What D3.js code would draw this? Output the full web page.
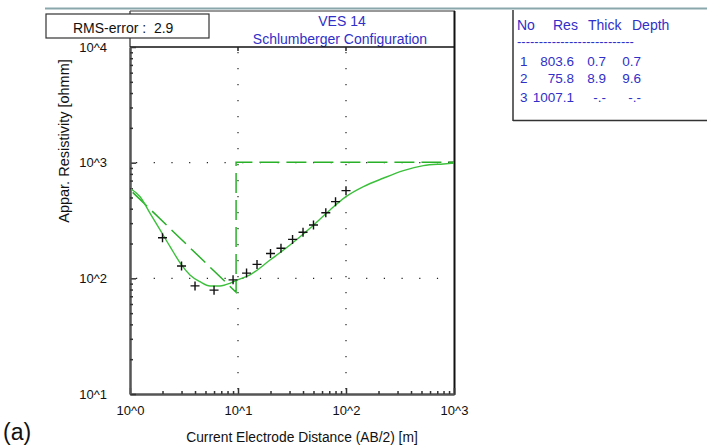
<!DOCTYPE html>
<html>
<head>
<meta charset="utf-8">
<script src="https://cdn.jsdelivr.net/npm/d3@7"></script>
<style>
  html, body { margin: 0; padding: 0; background: #ffffff; }
  svg { display: block; font-family: "Liberation Sans", Arial, sans-serif; }
</style>
</head>
<body>
<svg id="chart" width="707" height="446"></svg>
<script>
// Field sounding: half electrode spacing AB/2 [m] and apparent resistivity [ohm m]
const abHalf  = [2, 3, 4, 6, 9, 12, 15, 20, 25, 32, 40, 50, 65, 80, 100];
const rhoApp  = [224, 128, 86, 79, 97, 111, 132, 164, 182, 217, 250, 289, 369, 460, 573];

// Calculated response of the layered model
const curveAB  = [1, 1.24, 1.53, 1.9, 2.35, 3.01, 3.59, 4.45, 5.51, 6.81, 8.43, 9.38, 12.9, 19.8, 30.3, 46.4, 71.1, 100, 145, 221, 340, 520, 796, 1000];
const curveRho = [600, 508, 367, 262, 188, 130, 107, 93.5, 85.9, 85.9, 90.6, 94.8, 107, 144, 194, 271, 390, 508, 620, 733, 853, 942, 975, 990];

// Layered earth model
const layerNo    = [1, 2, 3];
const layerRes   = [803.6, 75.8, 1007.1];
const layerThick = [0.7, 8.9];
const layerDepth = [0.7, 9.6];

const xTicks = [1, 10, 100, 1000];
const yTicks = [10, 100, 1000, 10000];
const rmsError = 2.9;

const svg = d3.select("#chart");
const blue = "#3030c8";

const x = d3.scaleLog().domain([1, 1000]).range([130, 454]);
const y = d3.scaleLog().domain([10, 10000]).range([394, 47]);

const expLabel = d => "10^" + Math.round(Math.log10(d));

// window edge line
svg.append("line").attr("x1", 45).attr("x2", 707).attr("y1", 8.5).attr("y2", 8.5)
  .attr("stroke", "#8aa8ac").attr("stroke-width", 2);

// chart frame
svg.append("line").attr("x1", 130).attr("x2", 455).attr("y1", 11).attr("y2", 11)
  .attr("stroke", "#333").attr("stroke-width", 1);
svg.append("line").attr("x1", 130).attr("x2", 130).attr("y1", 11).attr("y2", 47)
  .attr("stroke", "#555").attr("stroke-width", 1.5);
svg.append("line").attr("x1", 454.5).attr("x2", 454.5).attr("y1", 11).attr("y2", 395)
  .attr("stroke", "#111").attr("stroke-width", 2);

// titles
svg.append("text").attr("x", 342).attr("y", 26).attr("text-anchor", "middle")
  .attr("font-size", 14).attr("fill", blue).text("VES 14");
svg.append("text").attr("x", 340).attr("y", 44).attr("text-anchor", "middle")
  .attr("font-size", 14).attr("fill", blue).text("Schlumberger Configuration");

// dotted decade grid
const grid = svg.append("g").attr("fill", "none").attr("stroke", "#222").attr("stroke-width", 1.2);
[10, 100].forEach(v => {
  grid.append("line").attr("x1", x(v)).attr("x2", x(v)).attr("y1", 52).attr("y2", 394)
    .attr("stroke-dasharray", "1.2,14.8");
});
[100, 1000].forEach(v => {
  grid.append("line").attr("x1", 136).attr("x2", 454).attr("y1", y(v)).attr("y2", y(v))
    .attr("stroke-dasharray", "1.2,16.5");
});

// plot top border with small decade ticks
svg.append("line").attr("x1", 130).attr("x2", 454).attr("y1", 47).attr("y2", 47)
  .attr("stroke", "#111").attr("stroke-width", 1.5);
[10, 100].forEach(v => {
  svg.append("line").attr("x1", x(v)).attr("x2", x(v)).attr("y1", 47).attr("y2", 51)
    .attr("stroke", "#222").attr("stroke-width", 1.5);
});
svg.append("line").attr("x1", 448).attr("x2", 454).attr("y1", y(1000)).attr("y2", y(1000))
  .attr("stroke", "#111").attr("stroke-width", 2);

// minor tick values for log axes
const minorX = [];
const minorY = [];
[1, 10, 100].forEach(b => { for (let k = 2; k <= 9; k++) minorX.push(b * k); });
[10, 100, 1000].forEach(b => { for (let k = 2; k <= 9; k++) minorY.push(b * k); });

// x axis
const xAxis = svg.append("g").attr("transform", "translate(0,394)")
  .call(d3.axisBottom(x).tickValues(xTicks).tickFormat(expLabel).tickSizeInner(-6).tickSizeOuter(0).tickPadding(12));
const xMinor = svg.append("g").attr("transform", "translate(0,394)")
  .call(d3.axisBottom(x).tickValues(minorX).tickFormat("").tickSizeInner(-3).tickSizeOuter(0));

// y axis
const yAxis = svg.append("g").attr("transform", "translate(130,0)")
  .call(d3.axisLeft(y).tickValues(yTicks).tickFormat(expLabel).tickSizeInner(-6).tickSizeOuter(0).tickPadding(23));
const yMinor = svg.append("g").attr("transform", "translate(130,0)")
  .call(d3.axisLeft(y).tickValues(minorY).tickFormat("").tickSizeInner(-3).tickSizeOuter(0));

[xAxis, yAxis, xMinor, yMinor].forEach(g => {
  g.select(".domain").attr("stroke", "#555").attr("stroke-width", 2);
  g.selectAll(".tick line").attr("stroke", "#333").attr("stroke-width", 1.5);
  g.selectAll(".tick text").attr("font-size", 13).attr("fill", "#111")
    .attr("font-family", "'Liberation Sans', Arial, sans-serif");
});

// axis titles
svg.append("text").attr("x", 302).attr("y", 442).attr("text-anchor", "middle")
  .attr("font-size", 13.8).attr("fill", "#111").text("Current Electrode Distance (AB/2) [m]");
svg.append("text").attr("transform", "translate(69,141) rotate(-90)").attr("text-anchor", "middle")
  .attr("font-size", 14.5).attr("fill", "#111").text("Appar. Resistivity [ohmm]");

// clip to plot area
svg.append("clipPath").attr("id", "plotClip").append("rect")
  .attr("x", 131).attr("y", 47).attr("width", 323).attr("height", 347);

const plot = svg.append("g").attr("clip-path", "url(#plotClip)");

// model section drawn from layer depths and resistivities
const modelPts = [
  [layerDepth[0], layerRes[0]],
  [layerDepth[1], layerRes[1]],
  [layerDepth[1], layerRes[2]],
  [1000, layerRes[2]]
];
plot.append("path")
  .attr("d", d3.line().x(d => x(d[0])).y(d => y(d[1]))(modelPts))
  .attr("fill", "none").attr("stroke", "#28b028").attr("stroke-width", 1.5)
  .attr("stroke-dasharray", "20,7");

// calculated curve
const curvePts = curveAB.map((a, i) => [a, curveRho[i]]);
plot.append("path")
  .attr("d", d3.line().x(d => x(d[0])).y(d => y(d[1])).curve(d3.curveMonotoneX)(curvePts))
  .attr("fill", "none").attr("stroke", "#3cc03c").attr("stroke-width", 1.4);

// field data crosses
plot.selectAll(".obs").data(abHalf.map((a, i) => [a, rhoApp[i]])).enter()
  .append("path").attr("class", "obs")
  .attr("transform", d => `translate(${x(d[0])},${y(d[1])})`)
  .attr("d", "M-4.5,0H4.5M0,-4.5V4.5")
  .attr("stroke", "#111").attr("stroke-width", 1.4);

// RMS error box
svg.append("rect").attr("x", 46).attr("y", 14).attr("width", 163).attr("height", 24)
  .attr("fill", "#ffffff").attr("stroke", "#333").attr("stroke-width", 1.2);
svg.append("text").attr("x", 73).attr("y", 33).attr("font-size", 14).attr("fill", "#111")
  .attr("xml:space", "preserve").text("RMS-error :  " + rmsError);

// model table
const tbl = svg.append("g");
tbl.append("line").attr("x1", 513).attr("x2", 513).attr("y1", 10).attr("y2", 121)
  .attr("stroke", "#333").attr("stroke-width", 1.5);
tbl.append("line").attr("x1", 513).attr("x2", 707).attr("y1", 120.5).attr("y2", 120.5)
  .attr("stroke", "#333").attr("stroke-width", 1.5);

const hdr = [["No", 517], ["Res", 553], ["Thick", 588], ["Depth", 632]];
hdr.forEach(h => tbl.append("text").attr("x", h[1]).attr("y", 30)
  .attr("font-size", 14).attr("fill", blue).text(h[0]));
tbl.append("text").attr("x", 517).attr("y", 46).attr("font-size", 13).attr("fill", blue)
  .text("---------------------------");

const rowY = [66, 83, 102];
layerNo.forEach((n, i) => {
  const row = tbl.append("g").attr("font-size", 13.5).attr("fill", blue);
  row.append("text").attr("x", 520).attr("y", rowY[i]).text(n);
  row.append("text").attr("x", 574).attr("y", rowY[i]).attr("text-anchor", "end").text(layerRes[i].toFixed(1));
  row.append("text").attr("x", 606).attr("y", rowY[i]).attr("text-anchor", "end")
    .text(i < layerThick.length ? layerThick[i].toFixed(1) : "-.-");
  row.append("text").attr("x", 641).attr("y", rowY[i]).attr("text-anchor", "end")
    .text(i < layerDepth.length ? layerDepth[i].toFixed(1) : "-.-");
});

// panel label
svg.append("text").attr("x", 3).attr("y", 440).attr("font-size", 23).attr("fill", "#111").text("(a)");
</script>
</body>
</html>
